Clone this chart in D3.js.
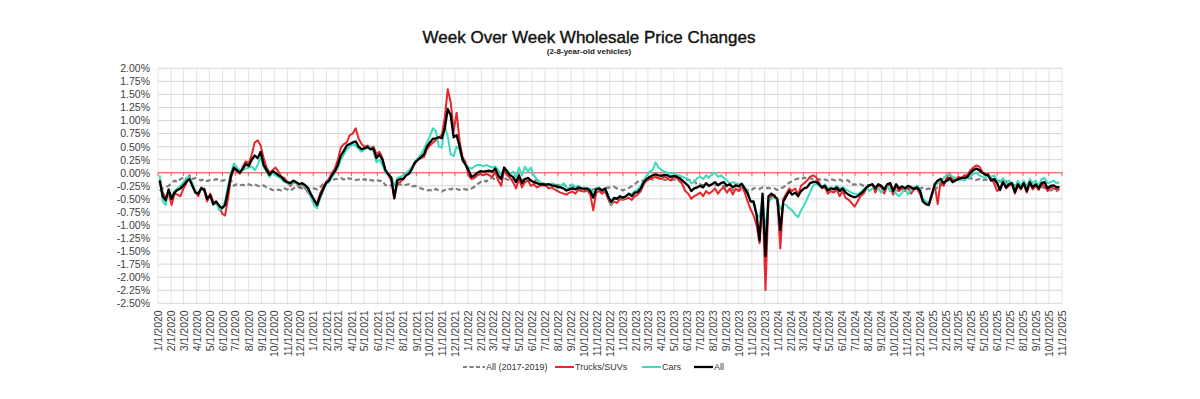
<!DOCTYPE html>
<html>
<head>
<meta charset="utf-8">
<script src="https://cdn.jsdelivr.net/npm/d3@7"></script>
<style>
  html, body { margin: 0; padding: 0; background: #fff; }
  svg { display: block; font-family: "Liberation Sans", Arial, sans-serif; }
</style>
</head>
<body>
<svg id="chart" width="1200" height="399"></svg>
<script>
// DATA (weekly, % change week over week), one row per year
const firstWeek = new Date(2020, 0, 5);

const allValues = [
  -0.15,-0.45,-0.53,-0.32,-0.50,-0.38,-0.33,-0.30,-0.24,-0.17,-0.12,-0.25,-0.38,-0.40,-0.30,-0.32,-0.50,-0.43,-0.60,-0.55,-0.63,-0.68,-0.62,-0.35,-0.05,0.10,0.05,0.00,0.08,0.17,0.13,0.25,0.33,0.28,0.40,0.15,0.05,-0.04,0.03,0.00,-0.05,-0.08,-0.15,-0.18,-0.20,-0.15,-0.18,-0.22,-0.20,-0.24,-0.30,-0.42,
  -0.52,-0.62,-0.45,-0.32,-0.20,-0.15,-0.05,0.03,0.15,0.33,0.42,0.52,0.55,0.58,0.60,0.50,0.45,0.47,0.49,0.45,0.46,0.28,0.35,0.25,0.05,-0.03,-0.10,-0.48,-0.15,-0.12,-0.12,-0.05,-0.02,0.08,0.20,0.25,0.30,0.35,0.50,0.58,0.65,0.66,0.68,0.66,0.85,1.22,1.10,0.68,0.72,0.50,0.25,0.15,
  0.05,-0.08,-0.05,0.00,0.03,0.02,0.03,0.04,0.02,0.08,-0.05,-0.12,0.10,0.02,-0.05,-0.08,-0.18,-0.05,-0.20,-0.12,-0.10,-0.15,-0.18,-0.20,-0.22,-0.22,-0.23,-0.22,-0.24,-0.25,-0.27,-0.28,-0.30,-0.34,-0.32,-0.30,-0.32,-0.28,-0.30,-0.31,-0.30,-0.35,-0.48,-0.32,-0.30,-0.34,-0.30,-0.45,-0.56,-0.48,-0.50,-0.45,
  -0.48,-0.45,-0.40,-0.45,-0.38,-0.37,-0.30,-0.18,-0.12,-0.08,-0.05,-0.03,-0.05,-0.06,-0.04,-0.05,-0.08,-0.06,-0.07,-0.10,-0.15,-0.20,-0.25,-0.35,-0.30,-0.28,-0.25,-0.28,-0.20,-0.25,-0.22,-0.18,-0.24,-0.20,-0.18,-0.25,-0.22,-0.28,-0.24,-0.26,-0.21,-0.30,-0.40,-0.55,-0.55,-0.80,-1.30,-0.40,-1.60,-0.45,-0.40,-0.45,-0.50,
  -1.10,-0.55,-0.45,-0.35,-0.42,-0.38,-0.45,-0.35,-0.30,-0.28,-0.20,-0.18,-0.17,-0.22,-0.28,-0.25,-0.34,-0.30,-0.32,-0.28,-0.35,-0.30,-0.38,-0.42,-0.45,-0.47,-0.45,-0.40,-0.35,-0.28,-0.24,-0.22,-0.30,-0.22,-0.25,-0.32,-0.22,-0.20,-0.35,-0.22,-0.30,-0.26,-0.30,-0.25,-0.28,-0.31,-0.28,-0.34,-0.55,-0.60,-0.62,-0.43,
  -0.22,-0.15,-0.12,-0.20,-0.15,-0.10,-0.18,-0.15,-0.12,-0.10,-0.10,-0.08,0.00,0.05,0.08,0.05,0.00,-0.03,-0.05,-0.15,-0.12,-0.20,-0.33,-0.18,-0.28,-0.22,-0.20,-0.37,-0.22,-0.30,-0.20,-0.35,-0.18,-0.28,-0.22,-0.30,-0.20,-0.18,-0.30,-0.25,-0.24,-0.28,-0.27
];

const truckValues = [
  -0.12,-0.38,-0.48,-0.40,-0.62,-0.40,-0.42,-0.45,-0.30,-0.20,-0.05,-0.25,-0.35,-0.45,-0.28,-0.35,-0.55,-0.40,-0.55,-0.60,-0.62,-0.78,-0.82,-0.50,-0.10,0.08,0.02,-0.02,0.12,0.22,0.18,0.35,0.58,0.62,0.52,0.28,0.10,0.00,0.05,0.10,0.02,-0.08,-0.10,-0.18,-0.25,-0.18,-0.20,-0.28,-0.22,-0.30,-0.38,-0.45,
  -0.55,-0.58,-0.40,-0.28,-0.18,-0.12,0.00,0.08,0.25,0.48,0.55,0.58,0.72,0.75,0.85,0.65,0.55,0.50,0.52,0.48,0.50,0.35,0.40,0.28,0.05,-0.05,-0.15,-0.50,-0.20,-0.18,-0.12,-0.05,0.00,0.10,0.18,0.25,0.28,0.30,0.45,0.52,0.58,0.62,0.68,0.72,1.05,1.60,1.35,0.80,1.15,0.60,0.30,0.20,
  -0.05,-0.12,-0.10,-0.05,-0.02,-0.05,-0.02,-0.05,-0.08,0.02,-0.15,-0.25,0.05,-0.05,-0.10,-0.18,-0.30,-0.12,-0.28,-0.18,-0.15,-0.25,-0.22,-0.28,-0.25,-0.24,-0.25,-0.30,-0.28,-0.32,-0.35,-0.38,-0.40,-0.42,-0.38,-0.36,-0.40,-0.33,-0.35,-0.36,-0.34,-0.42,-0.72,-0.38,-0.35,-0.40,-0.35,-0.50,-0.62,-0.55,-0.58,-0.50,
  -0.52,-0.50,-0.48,-0.52,-0.45,-0.42,-0.35,-0.22,-0.15,-0.12,-0.10,-0.08,-0.10,-0.12,-0.08,-0.10,-0.15,-0.08,-0.10,-0.15,-0.22,-0.35,-0.40,-0.50,-0.45,-0.42,-0.38,-0.45,-0.35,-0.40,-0.36,-0.30,-0.40,-0.32,-0.28,-0.38,-0.30,-0.42,-0.30,-0.35,-0.25,-0.38,-0.55,-0.70,-0.82,-1.00,-1.35,-0.45,-2.25,-0.55,-0.45,-0.42,-0.55,
  -1.45,-0.50,-0.40,-0.30,-0.35,-0.30,-0.42,-0.25,-0.20,-0.15,-0.08,-0.05,-0.08,-0.18,-0.30,-0.28,-0.40,-0.35,-0.38,-0.32,-0.45,-0.35,-0.48,-0.52,-0.58,-0.65,-0.55,-0.45,-0.40,-0.30,-0.25,-0.22,-0.38,-0.25,-0.28,-0.40,-0.25,-0.22,-0.42,-0.25,-0.35,-0.30,-0.35,-0.28,-0.40,-0.32,-0.30,-0.40,-0.55,-0.58,-0.60,-0.40,
  -0.25,-0.60,-0.15,-0.25,-0.10,0.00,-0.15,-0.12,-0.08,-0.10,-0.05,-0.05,0.05,0.10,0.14,0.12,0.02,-0.05,-0.02,-0.12,-0.20,-0.35,-0.30,-0.15,-0.30,-0.25,-0.22,-0.40,-0.25,-0.32,-0.22,-0.38,-0.20,-0.32,-0.25,-0.33,-0.22,-0.25,-0.35,-0.28,-0.30,-0.32,-0.30
];

const carValues = [
  -0.05,-0.55,-0.62,-0.35,-0.45,-0.35,-0.30,-0.25,-0.18,-0.10,-0.08,-0.20,-0.35,-0.38,-0.32,-0.30,-0.48,-0.45,-0.62,-0.55,-0.72,-0.68,-0.55,-0.25,0.00,0.18,0.10,0.05,0.05,0.08,0.10,0.12,0.05,0.15,0.30,0.10,0.02,-0.08,0.00,-0.05,-0.08,-0.12,-0.18,-0.20,-0.22,-0.18,-0.20,-0.25,-0.22,-0.28,-0.35,-0.48,
  -0.62,-0.68,-0.50,-0.35,-0.22,-0.18,-0.08,0.00,0.10,0.25,0.35,0.45,0.50,0.55,0.52,0.45,0.40,0.45,0.48,0.50,0.42,0.20,0.25,0.15,0.00,-0.05,-0.08,-0.25,-0.10,-0.08,-0.05,0.00,0.05,0.12,0.22,0.28,0.35,0.45,0.58,0.70,0.85,0.80,0.50,0.48,0.88,0.70,0.35,0.32,0.50,0.45,0.22,0.18,
  0.10,0.08,0.12,0.15,0.15,0.12,0.15,0.12,0.10,0.12,0.05,-0.05,0.08,0.05,-0.02,0.02,-0.08,0.10,-0.05,0.12,0.02,0.10,-0.05,-0.12,-0.18,-0.20,-0.22,-0.25,-0.20,-0.22,-0.30,-0.25,-0.20,-0.28,-0.30,-0.22,-0.28,-0.25,-0.30,-0.28,-0.32,-0.30,-0.40,-0.30,-0.28,-0.35,-0.32,-0.42,-0.60,-0.50,-0.48,-0.45,
  -0.50,-0.45,-0.42,-0.40,-0.35,-0.32,-0.25,-0.15,-0.05,0.02,0.05,0.20,0.10,0.05,0.02,0.00,-0.02,0.00,-0.05,-0.05,-0.08,-0.10,-0.12,-0.20,-0.18,-0.10,-0.08,-0.12,-0.05,-0.10,-0.02,0.00,-0.08,-0.05,-0.10,-0.15,-0.20,-0.18,-0.20,-0.22,-0.25,-0.28,-0.35,-0.55,-0.60,-0.80,-0.85,-0.50,-1.10,-0.55,-0.50,-0.48,-0.52,
  -0.70,-0.60,-0.62,-0.68,-0.72,-0.80,-0.85,-0.72,-0.62,-0.50,-0.38,-0.25,-0.20,-0.25,-0.28,-0.22,-0.30,-0.28,-0.30,-0.25,-0.30,-0.28,-0.32,-0.35,-0.38,-0.40,-0.42,-0.38,-0.32,-0.28,-0.35,-0.30,-0.25,-0.30,-0.38,-0.30,-0.25,-0.35,-0.30,-0.40,-0.45,-0.38,-0.30,-0.42,-0.32,-0.28,-0.25,-0.30,-0.50,-0.55,-0.58,-0.45,
  -0.25,-0.20,-0.15,-0.10,-0.05,-0.02,-0.08,-0.10,-0.15,-0.12,-0.15,-0.10,-0.08,-0.02,0.00,-0.05,-0.08,-0.10,-0.05,-0.08,-0.05,-0.15,-0.18,-0.10,-0.22,-0.15,-0.20,-0.30,-0.15,-0.25,-0.15,-0.28,-0.12,-0.20,-0.15,-0.25,-0.12,-0.10,-0.20,-0.18,-0.15,-0.20,-0.18
];

const baselineValues = [
  -0.35,-0.30,-0.28,-0.25,-0.20,-0.15,-0.18,-0.12,-0.10,-0.14,-0.08,-0.12,-0.10,-0.12,-0.15,-0.12,-0.16,-0.14,-0.15,-0.12,-0.16,-0.15,-0.14,-0.16,-0.14,-0.25,-0.22,-0.24,-0.23,-0.25,-0.22,-0.24,-0.22,-0.25,-0.26,-0.24,-0.28,-0.30,-0.33,-0.35,-0.32,-0.34,-0.30,-0.32,-0.35,-0.30,-0.28,-0.28,-0.30,-0.27,-0.30,-0.32,
  -0.30,-0.32,-0.28,-0.22,-0.18,-0.15,-0.16,-0.12,-0.12,-0.10,-0.13,-0.09,-0.12,-0.11,-0.14,-0.13,-0.15,-0.12,-0.16,-0.14,-0.15,-0.13,-0.16,-0.15,-0.24,-0.22,-0.25,-0.23,-0.24,-0.22,-0.25,-0.23,-0.22,-0.26,-0.25,-0.28,-0.30,-0.32,-0.34,-0.33,-0.35,-0.31,-0.34,-0.36,-0.33,-0.30,-0.32,-0.29,-0.31,-0.33,-0.30,-0.32,
  -0.33,-0.30,-0.27,-0.22,-0.18,-0.14,-0.17,-0.11,-0.10,-0.13,-0.09,-0.12,-0.10,-0.13,-0.15,-0.12,-0.15,-0.13,-0.14,-0.12,-0.15,-0.14,-0.16,-0.14,-0.17,-0.24,-0.21,-0.24,-0.22,-0.24,-0.23,-0.25,-0.22,-0.26,-0.24,-0.27,-0.29,-0.32,-0.34,-0.33,-0.31,-0.34,-0.32,-0.30,-0.33,-0.35,-0.30,-0.28,-0.29,-0.27,-0.30,-0.31,
  -0.34,-0.31,-0.29,-0.26,-0.22,-0.17,-0.14,-0.16,-0.12,-0.10,-0.13,-0.09,-0.11,-0.12,-0.14,-0.13,-0.15,-0.13,-0.14,-0.16,-0.14,-0.15,-0.13,-0.16,-0.15,-0.23,-0.22,-0.24,-0.23,-0.25,-0.22,-0.24,-0.23,-0.26,-0.25,-0.28,-0.31,-0.33,-0.35,-0.33,-0.34,-0.31,-0.33,-0.35,-0.30,-0.29,-0.31,-0.28,-0.30,-0.29,-0.31,-0.30,-0.33,
  -0.30,-0.28,-0.24,-0.19,-0.16,-0.13,-0.11,-0.13,-0.09,-0.12,-0.10,-0.13,-0.14,-0.12,-0.15,-0.13,-0.15,-0.12,-0.14,-0.15,-0.13,-0.16,-0.14,-0.15,-0.23,-0.22,-0.24,-0.22,-0.25,-0.23,-0.24,-0.22,-0.26,-0.25,-0.28,-0.30,-0.33,-0.34,-0.32,-0.35,-0.33,-0.31,-0.34,-0.30,-0.29,-0.31,-0.28,-0.30,-0.29,-0.32,-0.30,-0.33,
  -0.31,-0.28,-0.25,-0.20,-0.17,-0.13,-0.15,-0.11,-0.10,-0.13,-0.09,-0.12,-0.10,-0.13,-0.14,-0.12,-0.15,-0.13,-0.14,-0.12,-0.15,-0.14,-0.16,-0.14,-0.15,-0.24,-0.22,-0.24,-0.23,-0.25,-0.22,-0.24,-0.23,-0.25,-0.26,-0.24,-0.27,-0.29,-0.32,-0.34,-0.33,-0.35,-0.32
];

const seriesNames = ["All (2017-2019)", "Trucks/SUVs", "Cars", "All"];
const yTickValues = d3.range(-10, 9).map(i => i / 4);   // -2.50% .. 2.00%
const axisStart = new Date(2020, 0, 1);
const axisEnd = new Date(2025, 10, 1);

// SETUP
const svg = d3.select("#chart");
const margin = {left: 158, right: 1062, top: 68.3, bottom: 303.3};

const weeks = allValues.map((d, i) => d3.timeDay.offset(firstWeek, 7 * i));
const months = d3.timeMonth.range(axisStart, d3.timeDay.offset(axisEnd, 1));

const x = d3.scaleTime().domain([axisStart, axisEnd]).range([margin.left, margin.right]);
const y = d3.scaleLinear().domain([-2.5, 2]).range([margin.bottom, margin.top]);

// Title
svg.append("text")
    .attr("x", 589).attr("y", 43)
    .attr("text-anchor", "middle")
    .style("font-size", "17px")
    .style("fill", "#111")
    .style("stroke", "#111").style("stroke-width", 0.4)
    .text("Week Over Week Wholesale Price Changes");
svg.append("text")
    .attr("x", 589).attr("y", 54)
    .attr("text-anchor", "middle")
    .style("font-size", "8px")
    .style("font-weight", "bold")
    .style("fill", "#222")
    .text("(2-8-year-old vehicles)");

// Grid
const grid = svg.append("g");
grid.selectAll(".vgrid")
    .data(months)
    .join("line")
    .attr("x1", d => x(d)).attr("x2", d => x(d))
    .attr("y1", margin.top).attr("y2", margin.bottom)
    .attr("stroke", "#e4e4e4").attr("stroke-width", 1);
grid.selectAll(".hgrid")
    .data(yTickValues)
    .join("line")
    .attr("x1", margin.left).attr("x2", margin.right)
    .attr("y1", d => y(d)).attr("y2", d => y(d))
    .attr("stroke", "#d6d6d6").attr("stroke-width", 1);

// Y axis
const yAxis = svg.append("g")
    .attr("transform", `translate(${margin.left},0)`)
    .call(d3.axisLeft(y).tickValues(yTickValues).tickSize(0).tickPadding(8)
        .tickFormat(d => d.toFixed(2) + "%"));
yAxis.select(".domain").remove();
yAxis.selectAll("text")
    .style("font-family", "'Liberation Sans', Arial, sans-serif")
    .style("font-size", "10.5px")
    .style("fill", "#404040");

// X axis labels (bottom)
const xAxis = svg.append("g")
    .attr("transform", `translate(0,${margin.bottom})`)
    .call(d3.axisBottom(x).tickValues(months).tickSize(0)
        .tickFormat(d3.timeFormat("%-m/%-d/%Y")));
xAxis.select(".domain").remove();
xAxis.selectAll("text")
    .attr("transform", "rotate(-90)")
    .attr("x", -7).attr("y", 0).attr("dy", "0.35em")
    .style("text-anchor", "end")
    .style("font-family", "'Liberation Sans', Arial, sans-serif")
    .style("font-size", "10.5px")
    .style("fill", "#404040");

// Zero line (red) with month ticks
const zero = svg.append("g");
zero.append("line")
    .attr("x1", margin.left).attr("x2", margin.right)
    .attr("y1", y(0)).attr("y2", y(0))
    .attr("stroke", "#f05050").attr("stroke-width", 1.2);
zero.selectAll(".zt")
    .data(months)
    .join("line")
    .attr("x1", d => x(d)).attr("x2", d => x(d))
    .attr("y1", y(0)).attr("y2", y(0) + 3)
    .attr("stroke", "#f05050").attr("stroke-width", 1);

// Lines
const line = d3.line()
    .x((d, i) => x(weeks[i]))
    .y(d => y(d));

const series = [
    {name: seriesNames[0], values: baselineValues, color: "#7f7f7f", width: 2.2, dash: "5,3"},
    {name: seriesNames[1], values: truckValues, color: "#e8262b", width: 2, dash: null},
    {name: seriesNames[2], values: carValues, color: "#3ddbbd", width: 2, dash: null},
    {name: seriesNames[3], values: allValues, color: "#000000", width: 2.3, dash: null}
];

svg.append("g").selectAll("path")
    .data(series)
    .join("path")
    .attr("d", d => line(d.values))
    .attr("fill", "none")
    .attr("stroke", d => d.color)
    .attr("stroke-width", d => d.width)
    .attr("stroke-dasharray", d => d.dash)
    .attr("stroke-linejoin", "round");

// Legend
const legendX = [463, 555, 642, 694];
const legend = svg.append("g").attr("transform", "translate(0,367)");
const item = legend.selectAll("g")
    .data(series)
    .join("g")
    .attr("transform", (d, i) => `translate(${legendX[i]},0)`);
item.append("line")
    .attr("x1", 0).attr("x2", (d, i) => i === 0 ? 22 : 19)
    .attr("y1", 0).attr("y2", 0)
    .attr("stroke", d => d.color)
    .attr("stroke-width", d => d.width)
    .attr("stroke-dasharray", d => d.dash ? "4,2.5" : null);
item.append("text")
    .attr("x", (d, i) => i === 0 ? 23 : 20)
    .attr("y", 0).attr("dy", "0.35em")
    .style("font-size", "9px")
    .style("fill", "#333")
    .text(d => d.name);
</script>
</body>
</html>
